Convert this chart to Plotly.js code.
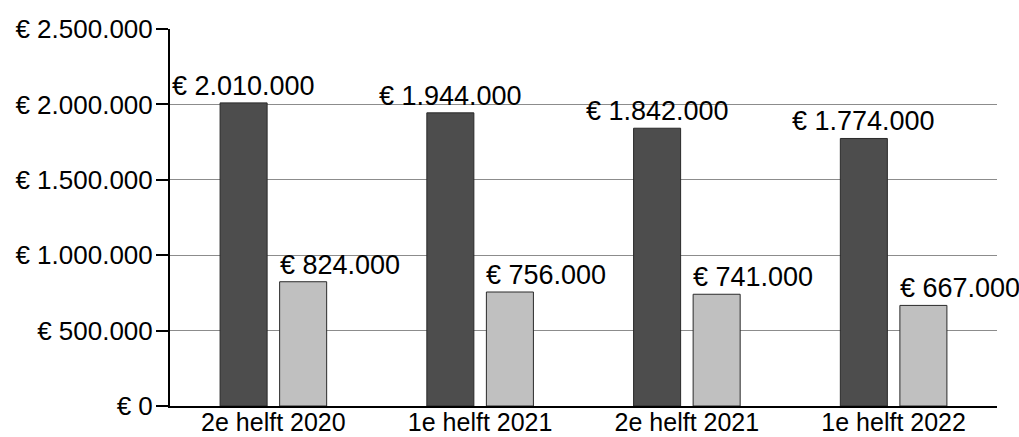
<!DOCTYPE html>
<html>
<head>
<meta charset="utf-8">
<script src="https://cdn.plot.ly/plotly-3.0.1.min.js"></script>
<style>
html,body{margin:0;padding:0;background:#fff;}
#chart{width:1019px;height:437px;}
</style>
</head>
<body>
<div id="chart"></div>
<script>
const categories = ["2e helft 2020", "1e helft 2021", "2e helft 2021", "1e helft 2022"];
const seriesDark = [2010000, 1944000, 1842000, 1774000];
const seriesLight = [824000, 756000, 741000, 667000];
const tickValues = [0, 500000, 1000000, 1500000, 2000000, 2500000];
const tickLabels = ["€ 0", "€ 500.000", "€ 1.000.000", "€ 1.500.000", "€ 2.000.000", "€ 2.500.000"];

function euro(v) {
  return "€ " + v.toString().replace(/\B(?=(\d{3})+(?!\d))/g, ".");
}

const FONT = "Liberation Sans, Arial, sans-serif";
const bargap = 0.424;
const bargroupgap = 0.21;
const slot = (1 - bargap) / 2;
const barW = slot * (1 - bargroupgap);

const traces = [
  {
    type: "bar", x: categories, y: seriesDark,
    marker: {color: "#4d4d4d", line: {color: "#2a2a2a", width: 1}},
    hoverinfo: "skip"
  },
  {
    type: "bar", x: categories, y: seriesLight,
    marker: {color: "#c0c0c0", line: {color: "#2a2a2a", width: 1}},
    hoverinfo: "skip"
  }
];

const annotations = [];
categories.forEach((c, i) => {
  annotations.push({
    x: i - slot / 2, y: seriesDark[i], xref: "x", yref: "y",
    text: euro(seriesDark[i]), showarrow: false,
    xanchor: "center", yanchor: "bottom", yshift: 0,
    font: {family: FONT, size: 27, color: "#000"}
  });
  annotations.push({
    x: i + slot / 2 - barW / 2, y: seriesLight[i], xref: "x", yref: "y",
    text: euro(seriesLight[i]), showarrow: false,
    xanchor: "left", yanchor: "bottom", yshift: 0, xshift: -2,
    font: {family: FONT, size: 27, color: "#000"}
  });
});

const layout = {
  width: 1019, height: 437,
  margin: {l: 170, r: 22, t: 29, b: 31},
  paper_bgcolor: "#fff", plot_bgcolor: "#fff",
  showlegend: false,
  barmode: "group", bargap: bargap, bargroupgap: bargroupgap,
  font: {family: FONT, size: 24, color: "#000"},
  xaxis: {
    type: "category", range: [-0.5, categories.length - 0.5],
    showline: true, linecolor: "#000", linewidth: 2,
    ticks: "", showgrid: false, zeroline: false,
    tickfont: {family: FONT, size: 25, color: "#000"},
    ticklabelstandoff: -7,
    automargin: false,
    fixedrange: true
  },
  yaxis: {
    range: [0, 2500000],
    tickvals: tickValues, ticktext: tickLabels,
    showline: true, linecolor: "#000", linewidth: 2,
    ticks: "outside", ticklen: 12, tickcolor: "#000", tickwidth: 2,
    showgrid: true, gridcolor: "#8c8c8c", gridwidth: 1,
    zeroline: false,
    tickfont: {family: FONT, size: 26, color: "#000"},
    ticklabelstandoff: -2,
    automargin: false,
    fixedrange: true
  },
  annotations: annotations
};

Plotly.newPlot("chart", traces, layout, {displayModeBar: false, staticPlot: true});
</script>
</body>
</html>
